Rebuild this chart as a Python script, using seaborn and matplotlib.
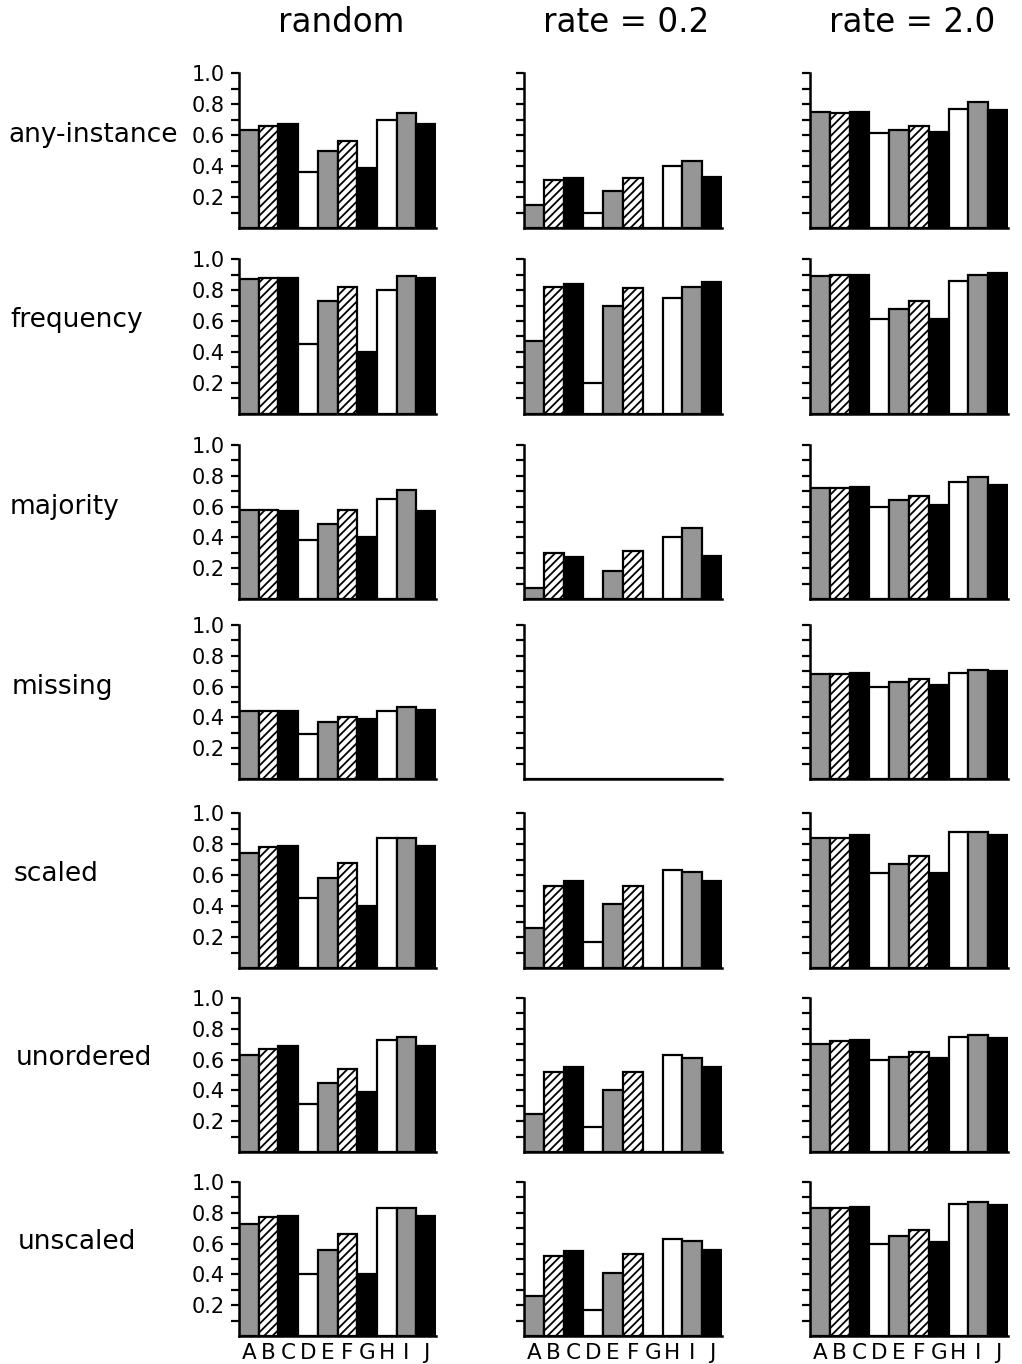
import matplotlib
matplotlib.use("Agg")
import matplotlib.pyplot as plt
import seaborn as sns
import pandas as pd
import numpy as np

# ---------------- data ----------------
categories = list("ABCDEFGHIJ")
row_names = ["any-instance", "frequency", "majority", "missing",
             "scaled", "unordered", "unscaled"]
col_names = ["random", "rate = 0.2", "rate = 2.0"]

random_any_instance = [0.63, 0.66, 0.67, 0.36, 0.50, 0.56, 0.39, 0.70, 0.74, 0.67]
random_frequency    = [0.87, 0.88, 0.88, 0.45, 0.73, 0.82, 0.40, 0.80, 0.89, 0.88]
random_majority     = [0.58, 0.58, 0.57, 0.38, 0.49, 0.58, 0.40, 0.65, 0.71, 0.57]
random_missing      = [0.44, 0.44, 0.44, 0.29, 0.37, 0.40, 0.39, 0.44, 0.47, 0.45]
random_scaled       = [0.74, 0.78, 0.79, 0.45, 0.58, 0.68, 0.40, 0.84, 0.84, 0.79]
random_unordered    = [0.63, 0.67, 0.69, 0.31, 0.45, 0.54, 0.39, 0.73, 0.75, 0.69]
random_unscaled     = [0.73, 0.77, 0.78, 0.40, 0.56, 0.66, 0.40, 0.83, 0.83, 0.78]

rate02_any_instance = [0.15, 0.31, 0.32, 0.10, 0.24, 0.32, 0.00, 0.40, 0.43, 0.33]
rate02_frequency    = [0.47, 0.82, 0.84, 0.20, 0.70, 0.81, 0.00, 0.75, 0.82, 0.85]
rate02_majority     = [0.07, 0.30, 0.27, 0.00, 0.18, 0.31, 0.00, 0.40, 0.46, 0.28]
rate02_missing      = [0.00, 0.00, 0.00, 0.00, 0.00, 0.00, 0.00, 0.00, 0.00, 0.00]
rate02_scaled       = [0.26, 0.53, 0.56, 0.17, 0.41, 0.53, 0.00, 0.63, 0.62, 0.56]
rate02_unordered    = [0.25, 0.52, 0.55, 0.16, 0.40, 0.52, 0.00, 0.63, 0.61, 0.55]
rate02_unscaled     = [0.26, 0.52, 0.55, 0.17, 0.41, 0.53, 0.00, 0.63, 0.62, 0.56]

rate20_any_instance = [0.75, 0.74, 0.75, 0.61, 0.63, 0.66, 0.62, 0.77, 0.81, 0.76]
rate20_frequency    = [0.89, 0.90, 0.90, 0.61, 0.68, 0.73, 0.61, 0.86, 0.90, 0.91]
rate20_majority     = [0.72, 0.72, 0.73, 0.60, 0.64, 0.67, 0.61, 0.76, 0.79, 0.74]
rate20_missing      = [0.68, 0.68, 0.69, 0.60, 0.63, 0.65, 0.61, 0.69, 0.71, 0.70]
rate20_scaled       = [0.84, 0.84, 0.86, 0.61, 0.67, 0.72, 0.61, 0.88, 0.88, 0.86]
rate20_unordered    = [0.70, 0.72, 0.73, 0.60, 0.62, 0.65, 0.61, 0.75, 0.76, 0.74]
rate20_unscaled     = [0.83, 0.83, 0.84, 0.60, 0.65, 0.69, 0.61, 0.86, 0.87, 0.85]

ytick_values = [0.1, 0.2, 0.3, 0.4, 0.5, 0.6, 0.7, 0.8, 0.9, 1.0]
ytick_labels = ["", "0.2", "", "0.4", "", "0.6", "", "0.8", "", "1.0"]

grid = [
    [random_any_instance, rate02_any_instance, rate20_any_instance],
    [random_frequency, rate02_frequency, rate20_frequency],
    [random_majority, rate02_majority, rate20_majority],
    [random_missing, rate02_missing, rate20_missing],
    [random_scaled, rate02_scaled, rate20_scaled],
    [random_unordered, rate02_unordered, rate20_unordered],
    [random_unscaled, rate02_unscaled, rate20_unscaled],
]

# ---------------- styles ----------------
GRAY = "#969696"
face_colors = [GRAY, "white", "black", "white", GRAY, "white", "black", "white", GRAY, "black"]
hatches = ["", "////", "", "", "", "////", "", "", "", ""]
palette = dict(zip(categories, face_colors))

sns.set_theme(style="ticks")
plt.rcParams['font.family'] = ['DejaVu Sans']
plt.rcParams['hatch.linewidth'] = 1.3
plt.rcParams['hatch.color'] = 'black'
plt.rcParams['text.color'] = 'black'
plt.rcParams['xtick.color'] = 'black'
plt.rcParams['ytick.color'] = 'black'
plt.rcParams['xtick.labelcolor'] = 'black'
plt.rcParams['ytick.labelcolor'] = 'black'

W, H = 1022, 1364
fig = plt.figure(figsize=(W / 100, H / 100), dpi=100)

col_px = [(239, 436), (524, 722), (810, 1008)]
row_px = [(73, 228), (259, 414), (445, 599), (625, 779),
          (813, 968), (998, 1152), (1182, 1336)]

for r, (top, bot) in enumerate(row_px):
    for c, (lft, rgt) in enumerate(col_px):
        ax = fig.add_axes([lft / W, 1 - bot / H, (rgt - lft) / W, (bot - top) / H])
        df = pd.DataFrame({"method": categories, "acc": grid[r][c]})
        sns.barplot(data=df, x="method", y="acc", hue="method", palette=palette,
                    hue_order=categories, order=categories,
                    width=1.0, edgecolor="black", linewidth=1.6, saturation=1,
                    legend=False, ax=ax)
        for patch, h in zip(ax.patches, hatches):
            patch.set_hatch(h)
        ax.set_xlim(-0.5, 9.5)
        ax.set_ylim(0, 1.0)
        ax.set_xlabel("")
        ax.set_ylabel("")
        ax.set_yticks(ytick_values)
        if c == 0:
            ax.set_yticklabels(ytick_labels)
        else:
            ax.set_yticklabels([""] * len(ytick_values))
        ax.tick_params(axis="y", direction="out", length=6, width=1.6,
                       labelsize=15, pad=4, colors="black")
        if r == len(row_px) - 1:
            ax.set_xticks(range(len(categories)))
            ax.set_xticklabels(categories)
            ax.tick_params(axis="x", length=0, labelsize=15.5, pad=5, colors="black")
        else:
            ax.set_xticks([])
        sns.despine(ax=ax)
        for s in ("left", "bottom"):
            ax.spines[s].set_linewidth(1.8)
            ax.spines[s].set_color("black")
        ax.set_facecolor("white")

# column titles
title_x = [341, 626, 912]
for name, x in zip(col_names, title_x):
    fig.text(x / W, 1 - 22 / H, name, ha="center", va="center",
             fontsize=23.5, color="black")

# row labels
label_pos = [(8, 135), (10, 320), (10, 507), (12, 687), (14, 874), (16, 1058), (18, 1242)]
for name, (x, y) in zip(row_names, label_pos):
    fig.text(x / W, 1 - y / H, name, ha="left", va="center",
             fontsize=19, color="black")

fig.savefig("out.png", dpi=100, facecolor="white")
